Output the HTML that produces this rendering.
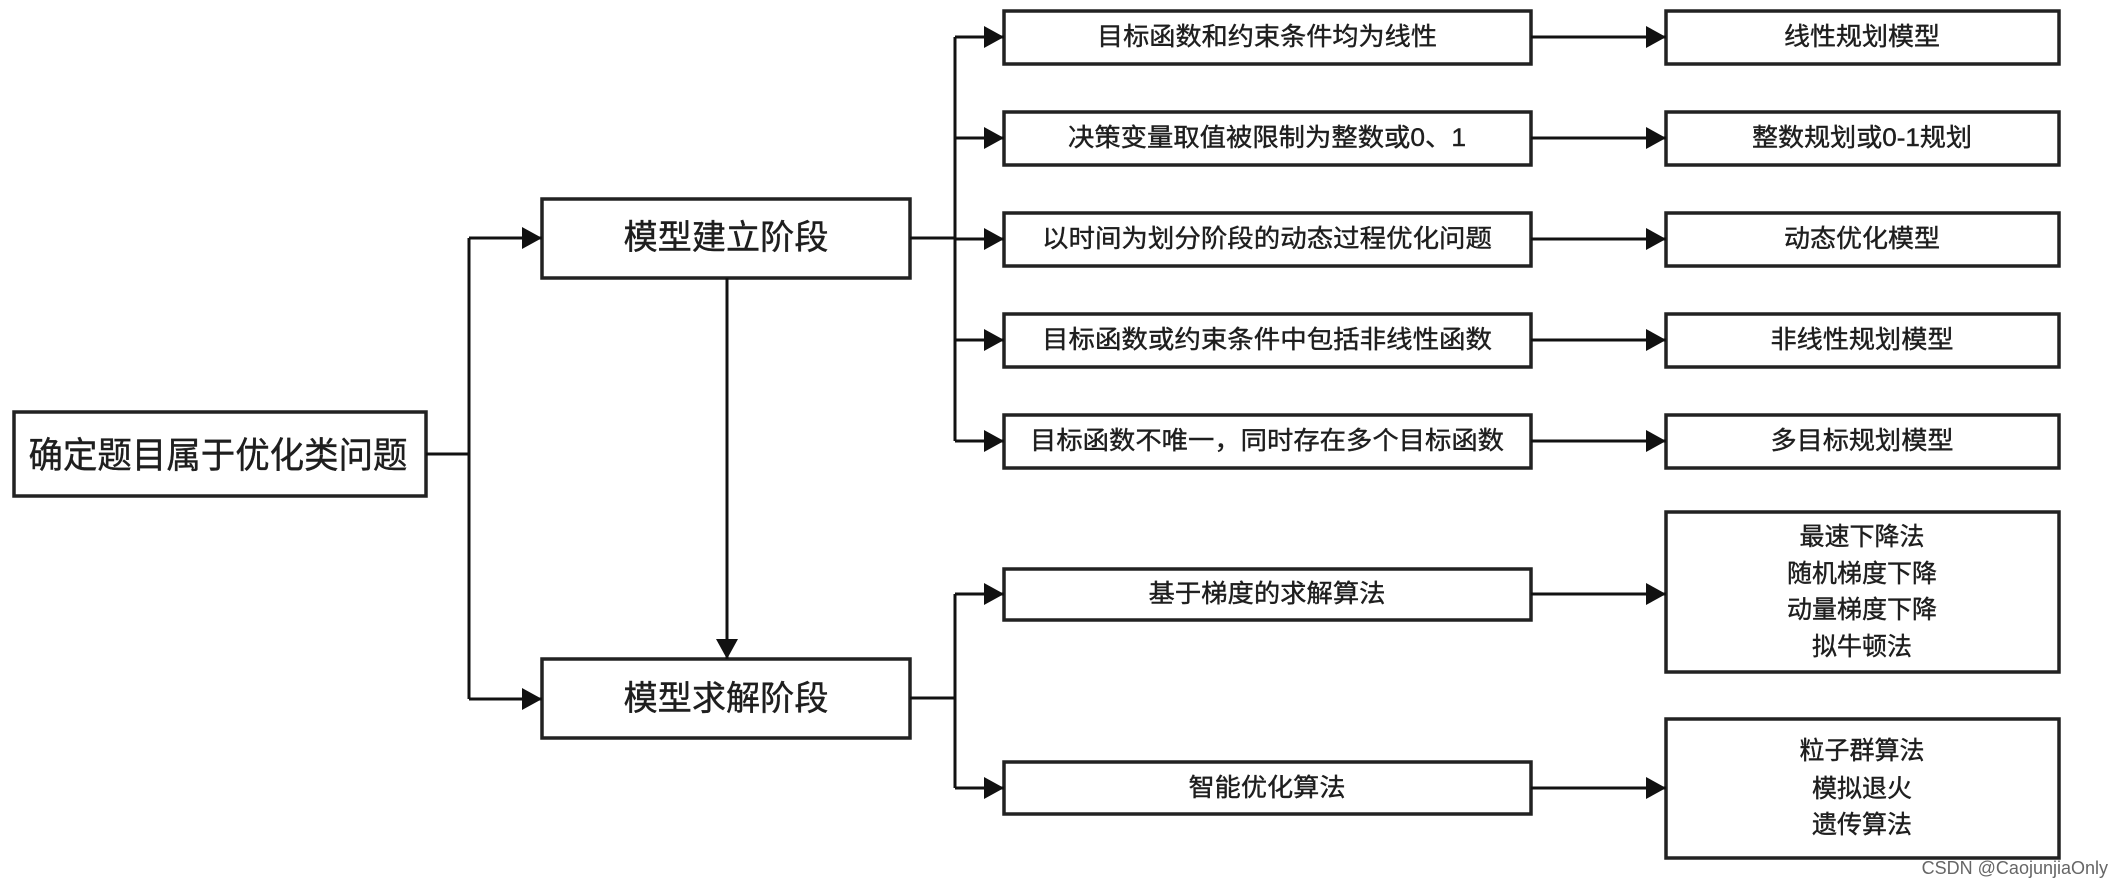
<!DOCTYPE html>
<html><head><meta charset="utf-8"><style>
html,body{margin:0;padding:0;background:#fff;}
svg{display:block;}
text{font-family:"Liberation Sans","Noto Sans CJK SC",sans-serif;fill:#1e1e1e;text-anchor:middle;dominant-baseline:central;stroke:#1e1e1e;stroke-width:0.4;}
</style></head><body>
<svg width="2124" height="886" viewBox="0 0 2124 886" xmlns="http://www.w3.org/2000/svg">
<defs>
<marker id="a" markerWidth="20" markerHeight="22" refX="20" refY="11" orient="auto" markerUnits="userSpaceOnUse">
<path d="M0,0 L20,11 L0,22 Z" fill="#111"/></marker>
</defs>
<g stroke="#222" stroke-width="3.5" fill="#fff">
<rect x="14" y="412" width="412" height="84"/>
<rect x="542" y="199" width="368" height="79"/>
<rect x="542" y="659" width="368" height="79"/>
<rect x="1004" y="11" width="527" height="53"/>
<rect x="1004" y="112" width="527" height="53"/>
<rect x="1004" y="213" width="527" height="53"/>
<rect x="1004" y="314" width="527" height="53"/>
<rect x="1004" y="415" width="527" height="53"/>
<rect x="1666" y="11" width="393" height="53"/>
<rect x="1666" y="112" width="393" height="53"/>
<rect x="1666" y="213" width="393" height="53"/>
<rect x="1666" y="314" width="393" height="53"/>
<rect x="1666" y="415" width="393" height="53"/>
<rect x="1004" y="569" width="527" height="51"/>
<rect x="1004" y="762" width="527" height="52"/>
<rect x="1666" y="512" width="393" height="160"/>
<rect x="1666" y="719" width="393" height="139"/>
</g>
<g stroke="#111" stroke-width="3" fill="none">
<path d="M426,454 H469"/>
<path d="M469,238 V699"/>
<path d="M469,238 H542" marker-end="url(#a)"/>
<path d="M469,699 H542" marker-end="url(#a)"/>
<path d="M727,278 V659" marker-end="url(#a)"/>
<path d="M910,238 H955"/>
<path d="M955,37 V441"/>
<path d="M955,37 H1004" marker-end="url(#a)"/>
<path d="M955,138 H1004" marker-end="url(#a)"/>
<path d="M955,239 H1004" marker-end="url(#a)"/>
<path d="M955,340 H1004" marker-end="url(#a)"/>
<path d="M955,441 H1004" marker-end="url(#a)"/>
<path d="M1531,37 H1666" marker-end="url(#a)"/>
<path d="M1531,138 H1666" marker-end="url(#a)"/>
<path d="M1531,239 H1666" marker-end="url(#a)"/>
<path d="M1531,340 H1666" marker-end="url(#a)"/>
<path d="M1531,441 H1666" marker-end="url(#a)"/>
<path d="M910,698 H955"/>
<path d="M955,594 V788"/>
<path d="M955,594 H1004" marker-end="url(#a)"/>
<path d="M955,788 H1004" marker-end="url(#a)"/>
<path d="M1531,594 H1666" marker-end="url(#a)"/>
<path d="M1531,788 H1666" marker-end="url(#a)"/>
</g>
<text x="218" y="455" font-size="36" textLength="379" lengthAdjust="spacingAndGlyphs">确定题目属于优化类问题</text>
<text x="726" y="238" font-size="34" textLength="205" lengthAdjust="spacingAndGlyphs">模型建立阶段</text>
<text x="726" y="699" font-size="34" textLength="205" lengthAdjust="spacingAndGlyphs">模型求解阶段</text>
<g font-size="25">
<text x="1267" y="37" textLength="340" lengthAdjust="spacingAndGlyphs">目标函数和约束条件均为线性</text>
<text x="1267" y="138" textLength="398" lengthAdjust="spacingAndGlyphs">决策变量取值被限制为整数或0、1</text>
<text x="1267" y="239" textLength="450" lengthAdjust="spacingAndGlyphs">以时间为划分阶段的动态过程优化问题</text>
<text x="1267" y="340" textLength="450" lengthAdjust="spacingAndGlyphs">目标函数或约束条件中包括非线性函数</text>
<text x="1267" y="441" textLength="474" lengthAdjust="spacingAndGlyphs">目标函数不唯一，同时存在多个目标函数</text>
<text x="1267" y="594" textLength="237" lengthAdjust="spacingAndGlyphs">基于梯度的求解算法</text>
<text x="1267" y="788" textLength="157" lengthAdjust="spacingAndGlyphs">智能优化算法</text>
<text x="1862" y="37" textLength="156" lengthAdjust="spacingAndGlyphs">线性规划模型</text>
<text x="1862" y="138" textLength="220" lengthAdjust="spacingAndGlyphs">整数规划或0-1规划</text>
<text x="1862" y="239" textLength="156" lengthAdjust="spacingAndGlyphs">动态优化模型</text>
<text x="1862" y="340" textLength="183" lengthAdjust="spacingAndGlyphs">非线性规划模型</text>
<text x="1862" y="441" textLength="183" lengthAdjust="spacingAndGlyphs">多目标规划模型</text>
<text x="1862" y="537">最速下降法</text>
<text x="1862" y="574">随机梯度下降</text>
<text x="1862" y="610">动量梯度下降</text>
<text x="1862" y="647">拟牛顿法</text>
<text x="1862" y="751">粒子群算法</text>
<text x="1862" y="789">模拟退火</text>
<text x="1862" y="825">遗传算法</text>
</g>
<text x="2108" y="868" font-size="18" style="text-anchor:end;fill:#666;stroke:none">CSDN @CaojunjiaOnly</text>
</svg>
</body></html>
